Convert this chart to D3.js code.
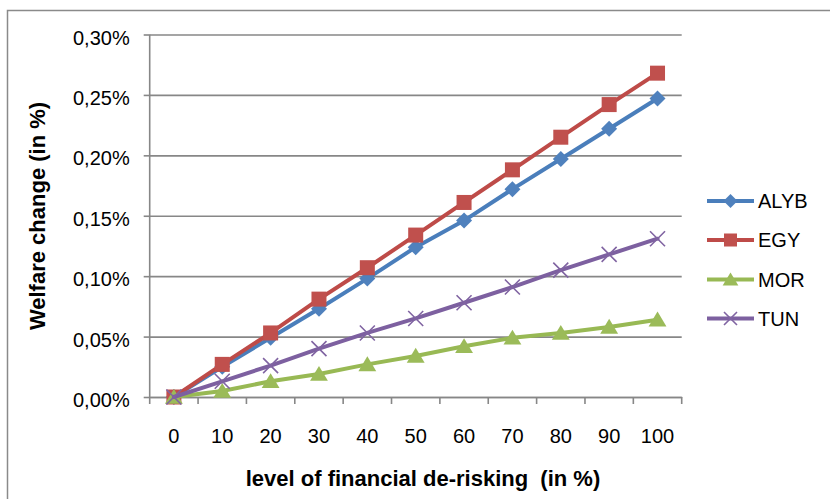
<!DOCTYPE html>
<html>
<head>
<meta charset="utf-8">
<script src="https://cdn.jsdelivr.net/npm/d3@7/dist/d3.min.js"></script>
<style>
  html, body { margin: 0; padding: 0; background: #fff; }
  svg { display: block; font-family: "Liberation Sans", Arial, sans-serif; }
</style>
</head>
<body>
<svg id="chart" width="830" height="499"></svg>
<script>
// Level of financial de-risking (%) on the category axis
const categories = [0, 10, 20, 30, 40, 50, 60, 70, 80, 90, 100];

// Welfare change (in %) per country group
const alyb = [0, 0.025, 0.049, 0.073, 0.098, 0.124, 0.146, 0.172, 0.197, 0.222, 0.247];
const egy  = [0, 0.027, 0.053, 0.081, 0.107, 0.134, 0.161, 0.188, 0.215, 0.242, 0.268];
const mor  = [0, 0.005, 0.013, 0.019, 0.027, 0.034, 0.042, 0.049, 0.053, 0.058, 0.064];
const tun  = [0, 0.013, 0.026, 0.040, 0.053, 0.065, 0.078, 0.091, 0.105, 0.118, 0.131];

const seriesNames = ["ALYB", "EGY", "MOR", "TUN"];
const yTicks = [0, 0.05, 0.10, 0.15, 0.20, 0.25, 0.30];

const series = [
  { name: seriesNames[0], values: alyb, line: "#4A7EBB", fill: "#4F81BD", marker: "diamond" },
  { name: seriesNames[1], values: egy,  line: "#BE4B48", fill: "#C0504D", marker: "square" },
  { name: seriesNames[2], values: mor,  line: "#98B954", fill: "#9BBB59", marker: "triangle" },
  { name: seriesNames[3], values: tun,  line: "#7D60A0", fill: "#8064A2", marker: "cross" }
];

const svg = d3.select("#chart");
const axisColor = "#878787";

// Outer chart frame
svg.append("rect")
  .attr("x", 7.5).attr("y", 10.5)
  .attr("width", 840).attr("height", 520)
  .attr("fill", "none").attr("stroke", "#8a8a8a").attr("stroke-width", 1.5);

const plot = { left: 149.7, right: 681.7, top: 34.5, bottom: 397 };

const x = d3.scaleBand()
  .domain(categories)
  .range([plot.left, plot.right])
  .padding(0);
const y = d3.scaleLinear()
  .domain([0, 0.30])
  .range([plot.bottom, plot.top]);

const fmtPct = v => d3.format(".2f")(v).replace(".", ",") + "%";

// Horizontal gridlines
svg.append("g")
  .attr("transform", `translate(${plot.left},0)`)
  .call(d3.axisLeft(y).tickValues(yTicks).tickSize(-(plot.right - plot.left)).tickFormat(""))
  .call(g => g.select(".domain").remove())
  .call(g => g.selectAll("line").attr("stroke", axisColor).attr("stroke-width", 1.6));

// Y axis with outer tick marks and labels
svg.append("g")
  .attr("transform", `translate(${plot.left},0)`)
  .call(d3.axisLeft(y).tickValues(yTicks).tickSize(6).tickPadding(14).tickFormat(fmtPct))
  .call(g => g.select(".domain").attr("stroke", axisColor).attr("stroke-width", 1.6)
    .attr("d", `M0,${plot.top}V${plot.bottom}`))
  .call(g => g.selectAll("line").attr("stroke", axisColor).attr("stroke-width", 1.6))
  .call(g => g.selectAll("text")
    .attr("fill", "#000").attr("font-size", 20)
    .attr("font-family", "'Liberation Sans', Arial, sans-serif")
    .attr("dy", "0.48em"));

// X axis: labels centred on categories, tick marks on category boundaries
const xAxis = svg.append("g")
  .attr("transform", `translate(0,${plot.bottom})`)
  .call(d3.axisBottom(x).tickSize(0).tickPadding(32))
  .call(g => g.select(".domain").attr("stroke", axisColor).attr("stroke-width", 1.6))
  .call(g => g.selectAll("text")
    .attr("fill", "#000").attr("font-size", 20)
    .attr("font-family", "'Liberation Sans', Arial, sans-serif"));

xAxis.selectAll(".bound")
  .data(d3.range(categories.length + 1))
  .join("line")
  .attr("class", "bound")
  .attr("x1", i => plot.left + i * x.step())
  .attr("x2", i => plot.left + i * x.step())
  .attr("y1", 0).attr("y2", 7)
  .attr("stroke", axisColor).attr("stroke-width", 1.6);

// Marker drawing
function drawMarker(sel, type, size, color) {
  const h = size / 2;
  if (type === "diamond") {
    sel.append("path").attr("d", `M0,${-h}L${h},0L0,${h}L${-h},0Z`).attr("fill", color);
  } else if (type === "square") {
    sel.append("rect").attr("x", -h).attr("y", -h).attr("width", size).attr("height", size).attr("fill", color);
  } else if (type === "triangle") {
    sel.append("path").attr("d", `M0,${-h * 0.95}L${h * 1.05},${h * 0.8}L${-h * 1.05},${h * 0.8}Z`).attr("fill", color);
  } else if (type === "cross") {
    sel.append("path").attr("d", `M${-h},${-h}L${h},${h}M${h},${-h}L${-h},${h}`)
      .attr("stroke", color).attr("stroke-width", 1.6).attr("fill", "none");
  }
}

const markerSize = { diamond: 16, square: 15, triangle: 17, cross: 15 };
const cx = d => x(d) + x.bandwidth() / 2;

const line = d3.line()
  .x((d, i) => cx(categories[i]))
  .y(d => y(d));

series.forEach(s => {
  const g = svg.append("g");
  g.append("path")
    .attr("d", line(s.values))
    .attr("fill", "none")
    .attr("stroke", s.line)
    .attr("stroke-width", 4)
    .attr("stroke-linejoin", "round")
    .attr("stroke-linecap", "round");
  g.selectAll(".m")
    .data(s.values)
    .join("g")
    .attr("class", "m")
    .attr("transform", (d, i) => `translate(${cx(categories[i])},${y(d)})`)
    .each(function () { drawMarker(d3.select(this), s.marker, markerSize[s.marker], s.fill); });
});

// Legend
const legend = svg.append("g");
const legendY = [201, 240, 279.5, 318.5];
series.forEach((s, i) => {
  const g = legend.append("g").attr("transform", `translate(0,${legendY[i]})`);
  g.append("line").attr("x1", 707).attr("x2", 754).attr("y1", 0).attr("y2", 0)
    .attr("stroke", s.line).attr("stroke-width", 4);
  const m = g.append("g").attr("transform", "translate(730.5,0)");
  drawMarker(m, s.marker, markerSize[s.marker] - 2, s.fill);
  g.append("text").attr("x", 758).attr("y", 0).attr("dy", "0.36em")
    .attr("font-size", 20).attr("fill", "#000").text(s.name);
});

// Axis titles
svg.append("text")
  .attr("x", 423).attr("y", 486)
  .attr("text-anchor", "middle")
  .attr("font-size", 22).attr("font-weight", "bold").attr("fill", "#000")
  .attr("xml:space", "preserve")
  .text("level of financial de-risking  (in %)");

svg.append("text")
  .attr("transform", "translate(45,216) rotate(-90)")
  .attr("text-anchor", "middle")
  .attr("font-size", 22).attr("font-weight", "bold").attr("fill", "#000")
  .text("Welfare change (in %)");
</script>
</body>
</html>
